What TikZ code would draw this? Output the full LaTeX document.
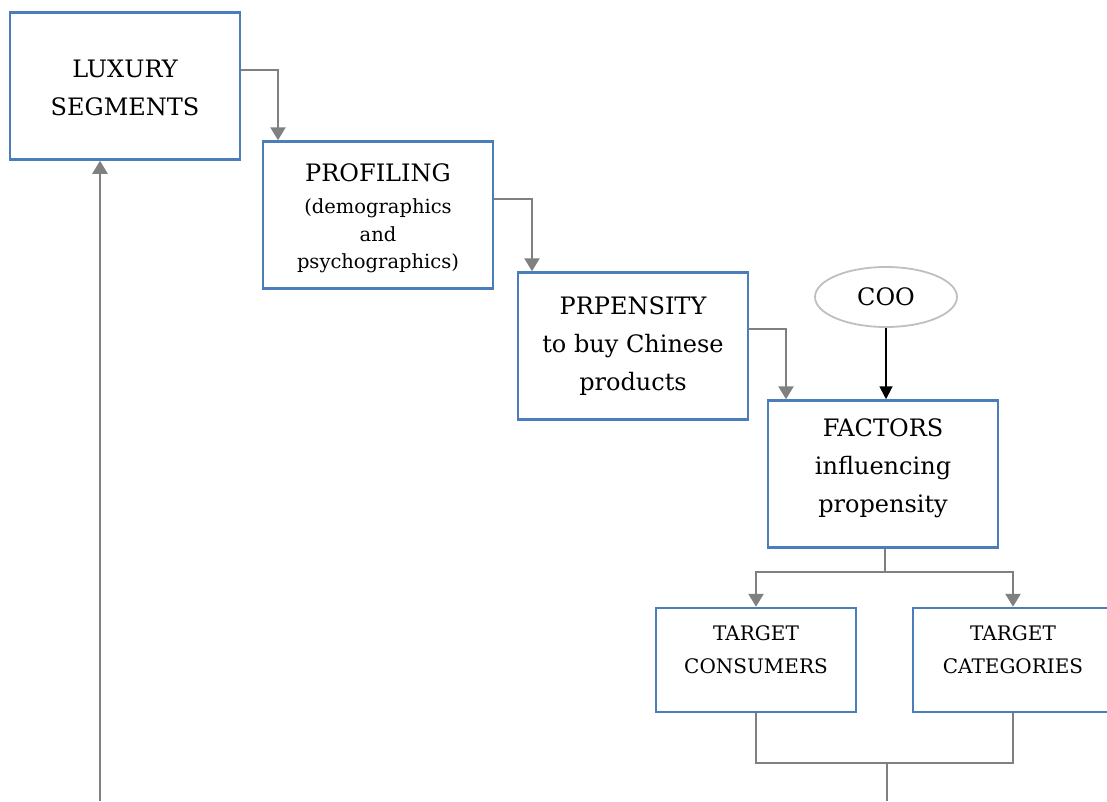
\documentclass[tikz,border=0pt]{standalone}
\usepackage{fontspec}
\setmainfont{DejaVu Serif}
\usetikzlibrary{arrows.meta,shapes.geometric}
\definecolor{boxblue}{HTML}{4A7EBB}
\definecolor{arrgray}{HTML}{808080}
\definecolor{ellgray}{HTML}{BFBFBF}
\tikzset{
  box/.style={draw=boxblue, line width=2.5pt, fill=white, inner sep=0pt},
  bigbox/.style={box, minimum width=230pt, minimum height=147pt},
  tbox/.style={box, minimum width=200pt, minimum height=104pt},
  bigtxt/.style={align=center, inner sep=0pt, text=black, font=\fontsize{24}{38}\selectfont},
  smalltxt/.style={align=center, inner sep=0pt, text=black, font=\fontsize{19.5}{27.5}\selectfont},
  ttxt/.style={align=center, inner sep=0pt, text=black, font=\fontsize{20}{33}\selectfont},
  conn/.style={draw=arrgray, line width=2.5pt},
  arr/.style={conn, -{Triangle[width=15pt,length=13pt]}},
  barr/.style={draw=black, line width=1.8pt, -{Triangle[width=13pt,length=13pt]}},
}
\begin{document}
\begin{tikzpicture}[x=1pt,y=-1pt]
\useasboundingbox (0,0) rectangle (1107,801);
\node[bigbox] (lux) at (125,86) {};
\node[bigtxt] (luxt) at (125,88) {LUXURY\\SEGMENTS};
\node[bigbox] (prof) at (378,215) {};
\node[bigtxt] (proft) at (378,173) {PROFILING};
\node[smalltxt] (profs) at (378,236) {(demographics\\and\\psychographics)};
\node[bigbox] (prop) at (633,346) {};
\node[bigtxt] (propt) at (633,346) {PRPENSITY\\to buy Chinese\\products};
\node[bigbox] (fact) at (883,474) {};
\node[bigtxt] (factt) at (883,468) {FACTORS\\influencing\\propensity};
\node[draw=ellgray, line width=1.8pt, ellipse, minimum width=142pt, minimum height=60pt, inner sep=0pt, font=\fontsize{24}{30}\selectfont] (coo) at (886,297) {COO};
\node[tbox] (tcons) at (756,660) {};
\node[ttxt] (tconst) at (756,650) {TARGET\\CONSUMERS};
\node[tbox] (tcat) at (1013,660) {};
\node[ttxt] (tcatt) at (1013,650) {TARGET\\CATEGORIES};
\coordinate (split) at (885,572);
\coordinate (merge) at (887,763);
\coordinate (bot) at (887,801);
\coordinate (lbot) at (100,801);
\draw[arr] (lux.east |- 0,70) -| (prof.north -| 278,0);
\draw[arr] (prof.east |- 0,199) -| (prop.north -| 532,0);
\draw[arr] (prop.east |- 0,329) -| (fact.north -| 786,0);
\draw[barr] (coo.south) -- (coo.south |- fact.north);
\draw[conn] (fact.south -| split) -- (split);
\draw[arr] (split) -| (tcons.north);
\draw[arr] (split) -| (tcat.north);
\draw[conn] (tcons.south) |- (tcat.south |- merge) -- (tcat.south);
\draw[conn] (merge) -- (bot);
\draw[arr] (lbot) -- (lbot |- lux.south);
\end{tikzpicture}
\end{document}
